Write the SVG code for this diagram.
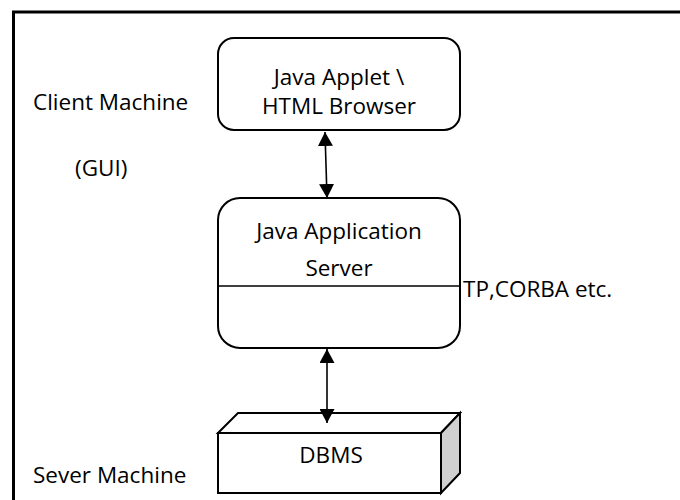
<svg xmlns="http://www.w3.org/2000/svg" width="680" height="500" viewBox="0 0 680 500">
  <style>
    text { font-family: "Open Sans", "Liberation Sans", sans-serif; font-size: 22.5px; fill: #000; }
    .c { text-anchor: middle; }
    .box { fill: #fff; stroke: #000; stroke-width: 2; }
    .conn { stroke: #000; stroke-width: 1.6; fill: none; }
  </style>
  <defs>
    <marker id="ah" viewBox="0 0 14 15" refX="14" refY="7.5" markerWidth="14" markerHeight="15" markerUnits="userSpaceOnUse" orient="auto-start-reverse">
      <path d="M0,0 L14,7.5 L0,15 Z" fill="#000"/>
    </marker>
  </defs>
  <rect width="680" height="500" fill="#fff"/>
  <g id="frame">
    <path d="M13.5,500 L13.5,12 L680,12" fill="none" stroke="#000" stroke-width="3"/>
  </g>
  <g id="labels">
    <text x="33" y="110">Client Machine</text>
    <text x="75" y="176">(GUI)</text>
    <text x="33" y="483">Sever Machine</text>
  </g>
  <g id="client">
    <rect class="box" x="218" y="38" width="242" height="92" rx="16" ry="16"/>
    <text class="c" x="339" y="85">Java Applet \</text>
    <text class="c" x="339" y="114">HTML Browser</text>
  </g>
  <g id="appserver">
    <rect class="box" x="218" y="198" width="242" height="150" rx="22" ry="22"/>
    <line x1="218" y1="286" x2="460" y2="286" stroke="#000" stroke-width="1.5"/>
    <text class="c" x="339" y="239">Java Application</text>
    <text class="c" x="339" y="276">Server</text>
    <text x="463" y="297">TP,CORBA etc.</text>
  </g>
  <g id="dbms">
    <polygon points="218,433 238,413 460,413 441,433" fill="#fff" stroke="#000" stroke-width="2" stroke-linejoin="miter"/>
    <polygon points="441,433 460,413 460,473 441,493" fill="#d0d0d0" stroke="#000" stroke-width="2"/>
    <rect class="box" x="218" y="433" width="223" height="60"/>
    <text class="c" x="331" y="463">DBMS</text>
  </g>
  <g id="connectors">
    <line class="conn" x1="325" y1="132" x2="327" y2="198" marker-start="url(#ah)" marker-end="url(#ah)"/>
    <line class="conn" x1="327" y1="349" x2="327" y2="423" marker-start="url(#ah)" marker-end="url(#ah)"/>
  </g>
</svg>
